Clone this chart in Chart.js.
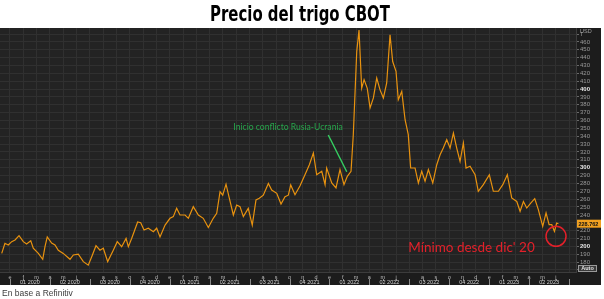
<!DOCTYPE html>
<html><head><meta charset="utf-8">
<script src="https://cdn.jsdelivr.net/npm/chart.js@4/dist/chart.umd.min.js"></script>
<style>html,body{margin:0;padding:0;background:#fff;}canvas{display:block}</style>
</head><body>
<canvas id="c" width="604" height="299"></canvas>
<script>
// Months since 1 Jan 2020 (0 = Jan 2020)
const monthPos = [-0.62,-0.38,-0.13,0.13,0.38,0.68,1.0,1.25,1.56,1.75,2.13,2.46,2.63,2.8,3.13,3.38,3.63,4.0,4.51,4.76,5.13,5.51,5.88,6.14,6.46,6.76,7.01,7.34,7.76,8.06,8.39,8.72,8.89,9.14,9.59,9.82,10.07,10.39,10.77,11.02,11.27,11.65,12.02,12.27,12.52,12.77,13.15,13.4,13.77,14.15,14.52,14.9,15.27,15.53,15.78,15.98,16.23,16.48,16.78,17.03,17.28,17.53,17.9,18.2,18.48,18.73,19.03,19.41,19.66,20.04,20.36,20.66,20.91,21.09,21.41,21.79,22.16,22.49,22.79,23.04,23.42,23.67,23.79,24.17,24.49,24.79,25.09,25.34,25.62,25.79,26.05,26.22,26.42,26.6,26.84,27.05,27.3,27.55,27.8,28.05,28.3,28.55,28.75,29.0,29.17,29.43,29.68,29.92,30.1,30.43,30.68,30.93,31.18,31.43,31.76,32.06,32.31,32.55,32.81,33.06,33.31,33.56,33.81,34.06,34.26,34.56,34.94,35.18,35.56,36.01,36.31,36.69,37.02,37.36,37.69,38.07,38.32,38.57,38.82,39.12,39.42,39.69,40.02,40.27,40.5,40.7,40.9,41.07,41.2];
// CBOT wheat, USD per tonne
const priceUSD = [191,203.8,201.7,205.9,208,213.5,205.9,203,207,197.5,191,183.5,199.5,212,204,201.7,195,191,183.5,189,190,180.5,176,186.8,200.8,195,197.5,180.5,195,205.9,199.5,210,199.5,210,231,230,220.7,223,218.6,223,212,227,235.6,237.7,248.3,239.8,239.8,235.6,250.4,239.8,235.6,224,235.6,242,269.5,265,279,261,239.8,252.5,250.4,237.7,248.3,227,259,261,265,280,271.6,267.4,253.8,263,265,278,265.6,277,291,303.8,318.7,291,295.4,278.4,299.6,280.5,274.2,297.5,278.4,289,295.4,342,448,475,401,412,401,376,388.7,414,399,388.7,407.8,469,435,422.6,386.5,397,361,342,299.6,299.6,280.5,295.4,282.7,297.5,280.5,303.8,316.5,325,335.6,325,344,325,308,331.4,299.6,301.8,291,270,278.4,291,270,270,278.4,291,261.5,257,244.5,257,248.7,255,260.6,246.6,225.4,242.4,227.5,227.5,219,229.6,228.762];
const monthLetters = ['e','f','m','a','m','j','','a','s','o','n','d'];
const quarterLabels = ['01 2020','02 2020','03 2020','04 2020','01 2021','02 2021','03 2021','04 2021','01 2022','02 2022','03 2022','04 2022','01 2023','02 2023'];
const lastPriceLabel = '228.762';
const titleText = 'Precio del trigo CBOT';
const sourceText = 'En base a Refinitiv';
const noteWar = {text:'Inicio conflicto Rusia-Ucrania', x:20.89, y:352, fromX:23.91, fromY:341.6, toX:25.3, toY:294.9};
const noteMin = {text:"Mínimo desde dic' 20", x:34.67, y:197.8, cx:41.02, cy:212.7};

const bgPlugin = {
  id:'bg',
  beforeDraw(chart){
    const c = chart.ctx, a = chart.chartArea;
    c.save();
    c.fillStyle = '#ffffff'; c.fillRect(0,0,chart.width,chart.height);
    c.fillStyle = '#1c1c1c'; c.fillRect(0,28,601,257);
    c.fillStyle = '#232323'; c.fillRect(a.left,a.top,a.right-a.left,a.bottom-a.top);
    c.restore();
  }
};

const overlayPlugin = {
  id:'overlay',
  afterDraw(chart){
    const c = chart.ctx, xs = chart.scales.x, ys = chart.scales.y;
    c.save();
    // title
    c.font = "bold 22px 'DejaVu Sans'";
    const w = c.measureText(titleText).width;
    c.translate(300, 21); c.scale(180/w, 1);
    c.fillStyle = '#000'; c.textAlign = 'center'; c.textBaseline = 'alphabetic';
    c.fillText(titleText, 0, 0);
    c.restore();
    c.save();
    // source
    c.font = "8.5px 'Liberation Sans'"; c.fillStyle = '#3c3c3c'; c.textAlign='left'; c.textBaseline='alphabetic';
    c.fillText(sourceText, 2, 296);
    // month ticks + quarter labels
    c.strokeStyle = '#8a8a8a'; c.lineWidth = 1;
    for (let m = 0; m <= 42; m++) {
      const x = Math.round(xs.getPixelForValue(m)) + 0.5;
      c.beginPath();
      if (m % 3 === 0) { c.moveTo(x, 279); c.lineTo(x, 285); }
      else { c.moveTo(x, 279); c.lineTo(x, 281); }
      c.stroke();
    }
    c.font = "5.5px 'Liberation Sans'"; c.fillStyle = '#cfcfcf'; c.textAlign='center'; c.textBaseline='middle';
    quarterLabels.forEach((q,i)=>{ c.fillText(q, xs.getPixelForValue(i*3+1.5), 282.5); });
    // USD / T
    c.font = "5.5px 'Liberation Sans'"; c.fillStyle = '#a0a0a0'; c.textAlign='left';
    c.fillText('USD', 580, 31);
    c.fillText('T', 580, ys.getPixelForValue(470));
    // last price box
    const yl = ys.getPixelForValue(priceUSD[priceUSD.length-1]);
    c.fillStyle = '#f0a020'; c.fillRect(577, yl-4, 24, 8);
    c.fillStyle = '#111'; c.font = "bold 5.5px 'Liberation Sans'"; c.textAlign='left';
    c.fillText(lastPriceLabel, 578.5, yl+0.5);
    // Auto box
    c.fillStyle = '#3a3a3a'; c.fillRect(578, 265, 19, 7);
    c.strokeStyle = '#9a9a9a'; c.strokeRect(578.5, 265.5, 18, 6);
    c.fillStyle = '#e0e0e0'; c.textAlign='center'; c.fillText('Auto', 587.5, 268.8);
    // war annotation
    c.font = "8.6px Lato"; c.fillStyle = '#27a64c'; c.textAlign='center'; c.textBaseline='middle';
    c.fillText(noteWar.text, xs.getPixelForValue(noteWar.x), ys.getPixelForValue(noteWar.y));
    c.strokeStyle = '#35d062'; c.lineWidth = 1.4;
    c.beginPath();
    c.moveTo(xs.getPixelForValue(noteWar.fromX), ys.getPixelForValue(noteWar.fromY));
    c.lineTo(xs.getPixelForValue(noteWar.toX), ys.getPixelForValue(noteWar.toY));
    c.stroke();
    // minimum annotation
    c.font = "13.5px Lato"; c.fillStyle = '#e3202a';
    c.fillText(noteMin.text, xs.getPixelForValue(noteMin.x), ys.getPixelForValue(noteMin.y));
    c.strokeStyle = '#e3202a'; c.lineWidth = 1.5;
    c.beginPath();
    c.arc(xs.getPixelForValue(noteMin.cx), ys.getPixelForValue(noteMin.cy), 10, 0, Math.PI*2);
    c.stroke();
    c.restore();
  }
};

Chart.defaults.font.family = "'Liberation Sans', Arial, sans-serif";
new Chart(document.getElementById('c'), {
  type:'line',
  data:{datasets:[{
    data: monthPos.map((m,i)=>({x:m, y:priceUSD[i]})),
    borderColor:'#e8920f', borderWidth:1.2, pointRadius:0, tension:0, fill:false
  }]},
  options:{
    responsive:false, animation:false, devicePixelRatio:1,
    layout:{padding:{top:28,right:3,bottom:14,left:0}},
    plugins:{legend:{display:false}, tooltip:{enabled:false}, title:{display:false}},
    scales:{
      x:{
        type:'linear', min:-0.75, max:42.52,
        afterBuildTicks:s=>{ s.ticks=[]; for(let m=0;m<=42;m++) s.ticks.push({value:m}); },
        grid:{color:'#303030', drawTicks:false},
        border:{display:true, color:'#3c3c3c'},
        ticks:{autoSkip:false, maxRotation:0, minRotation:0, padding:2, font:{size:5.5}, color:'#b8b8b8',
          callback:(v)=>monthLetters[((Math.round(v)%12)+12)%12]},
        afterFit:s=>{ s.height = 13; }
      },
      y:{
        position:'right', min:167.3, max:477.7,
        afterBuildTicks:s=>{ s.ticks=[]; for(let v=170; v<=470; v+=10) s.ticks.push({value:v}); },
        grid:{color:'#303030', tickLength:3, tickColor:'#6a6a6a'},
        border:{display:true, color:'#3c3c3c'},
        ticks:{autoSkip:false, padding:1, font:(ctx)=>({size:6, weight:(ctx.tick && ctx.tick.value%100===0)?'bold':'normal'}),
          color:(ctx)=>(ctx.tick && ctx.tick.value%100===0)?'#e8e8e8':'#9a9a9a',
          callback:(v)=>(v>=180 && v<=460)?String(v):''},
        afterFit:s=>{ s.width = 25; }
      }
    }
  },
  plugins:[bgPlugin, overlayPlugin]
});
</script>
</body></html>
